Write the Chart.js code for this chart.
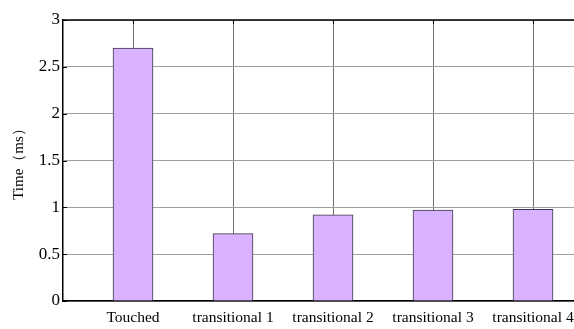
<!DOCTYPE html>
<html>
<head>
<meta charset="utf-8">
<script src="https://cdn.jsdelivr.net/npm/chart.js@4/dist/chart.umd.min.js"></script>
<style>
  html, body { margin: 0; padding: 0; background: #fff; overflow: hidden; }
  #wrap { width: 574px; height: 329px; position: relative; }
</style>
</head>
<body>
<div id="wrap"><canvas id="c"></canvas></div>
<script>
// Response time per contact state
const categories = ['Touched', 'transitional 1', 'transitional 2', 'transitional 3', 'transitional 4'];
const timeMs = [2.70, 0.72, 0.92, 0.97, 0.98];
const yTicks = [0, 0.5, 1, 1.5, 2, 2.5, 3];
const yTitle = 'Time（ms）';

const points = categories.map((name, i) => ({ x: i + 1, y: timeMs[i] }));

// Box top edge and short inward tick marks
const frame = {
  id: 'frame',
  afterDraw(chart) {
    const { ctx, chartArea: a, scales } = chart;
    ctx.save();
    ctx.strokeStyle = '#000';
    ctx.lineWidth = 1.5;
    ctx.beginPath();
    ctx.moveTo(a.left, a.top);
    ctx.lineTo(a.right + 2, a.top);
    ctx.stroke();
    ctx.lineWidth = 1;
    ctx.beginPath();
    scales.y.ticks.forEach(t => {
      const py = Math.round(scales.y.getPixelForValue(t.value)) + 0.5;
      ctx.moveTo(a.left, py);
      ctx.lineTo(a.left + 4, py);
    });
    scales.x.ticks.forEach(t => {
      const px = Math.round(scales.x.getPixelForValue(t.value)) + 0.5;
      ctx.moveTo(px, a.top);
      ctx.lineTo(px, a.top + 4);
    });
    ctx.stroke();
    ctx.restore();
  }
};

new Chart(document.getElementById('c'), {
  type: 'bar',
  data: {
    datasets: [{
      data: points,
      backgroundColor: '#d9b3ff',
      borderColor: '#3e3548',
      borderWidth: 1,
      barThickness: 40
    }]
  },
  options: {
    responsive: true,
    maintainAspectRatio: false,
    animation: false,
    layout: { padding: { top: 20, right: 0, bottom: 0, left: 0 } },
    plugins: { legend: { display: false }, tooltip: { enabled: false } },
    scales: {
      x: {
        type: 'linear',
        offset: false,
        min: 0.3,
        max: 5.41,
        afterBuildTicks(scale) {
          scale.ticks = categories.map((c, i) => ({ value: i + 1 }));
        },
        afterFit(scale) {
          scale.height = 28;
          scale.paddingLeft = 0;
          scale.paddingRight = 0;
        },
        grid: { color: '#707070', lineWidth: 1, drawTicks: false, offset: false },
        border: { color: '#000', width: 1.5 },
        ticks: {
          autoSkip: false,
          maxRotation: 0,
          padding: 8,
          color: '#000',
          font: { family: 'Liberation Serif', size: 15.5 },
          callback: v => categories[Math.round(v) - 1] ?? ''
        }
      },
      y: {
        min: 0,
        max: 3,
        afterBuildTicks(scale) {
          scale.ticks = yTicks.map(v => ({ value: v }));
        },
        afterFit(scale) { scale.width = 63; },
        grid: { color: '#a0a0a0', lineWidth: 1, drawTicks: false },
        border: { color: '#000', width: 1.5 },
        ticks: {
          padding: 3,
          color: '#000',
          font: { family: 'Liberation Serif', size: 17 },
          callback: v => String(v)
        },
        title: {
          display: true,
          text: yTitle,
          color: '#000',
          padding: { top: 10, bottom: 4 },
          font: { family: 'Liberation Serif', size: 15 }
        }
      }
    }
  },
  plugins: [frame]
});
</script>
</body>
</html>
